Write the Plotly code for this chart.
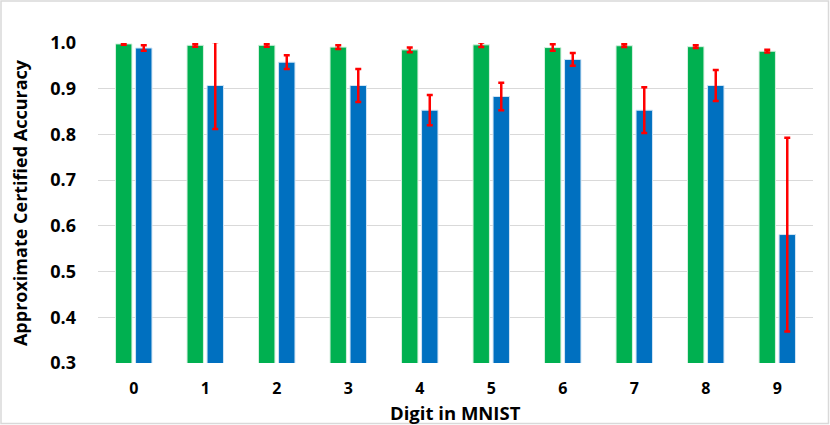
import plotly.graph_objects as go

digits = ["0", "1", "2", "3", "4", "5", "6", "7", "8", "9"]
green_vals = [0.998, 0.995, 0.995, 0.991, 0.985, 0.996, 0.990, 0.994, 0.992, 0.982]
green_err = [0.002, 0.003, 0.003, 0.004, 0.005, 0.005, 0.007, 0.003, 0.003, 0.003]
blue_vals = [0.989, 0.907, 0.958, 0.907, 0.853, 0.883, 0.964, 0.853, 0.907, 0.581]
blue_err = [0.006, 0.095, 0.015, 0.036, 0.033, 0.030, 0.014, 0.050, 0.034, 0.212]

font_family = "Open Sans"
W, H = 830, 425
L, R, T, B = 98, 17, 43, 62
pw, ph = W - L - R, H - T - B

fig = go.Figure()
fig.add_trace(go.Bar(
    x=digits, y=green_vals, name="A",
    marker=dict(color="#00B050", line=dict(color="#D6F0DF", width=1)),
    error_y=dict(type="data", array=green_err, color="#FF0000", thickness=2.5, width=3),
))
fig.add_trace(go.Bar(
    x=digits, y=blue_vals, name="B",
    marker=dict(color="#0070C0", line=dict(color="#D0E4F4", width=1)),
    error_y=dict(type="data", array=blue_err, color="#FF0000", thickness=2.5, width=3),
))

fig.update_layout(
    width=W, height=H,
    margin=dict(l=L, r=R, t=T, b=B),
    paper_bgcolor="white", plot_bgcolor="white",
    barmode="group", bargap=0.44, bargroupgap=0.18,
    showlegend=False,
    font=dict(family=font_family, color="#000000"),
    xaxis=dict(
        tickfont=dict(size=16, family=font_family, weight="bold"),
        ticklabelstandoff=14,
        showgrid=False, zeroline=False, showline=False, ticks="",
    ),
    yaxis=dict(
        title=dict(text="<b>Approximate Certified Accuracy</b>", font=dict(size=18, family=font_family), standoff=17),
        range=[0.3, 1.0], dtick=0.1, tickformat=".1f",
        tickfont=dict(size=18, family=font_family, weight="bold"),
        ticklabelstandoff=21,
        showgrid=True, gridcolor="#D9D9D9", gridwidth=1,
        zeroline=False, showline=False, ticks="",
    ),
    annotations=[dict(text="<b>Digit in MNIST</b>", xref="paper", yref="paper", x=0.5, y=0,
                      xanchor="center", yanchor="middle", yshift=-49, showarrow=False, borderpad=0,
                      font=dict(size=18.5, family=font_family, color="#000000"))],
    shapes=[dict(type="rect", xref="paper", yref="paper",
                 x0=-(L - 1) / pw, x1=1 + (R - 1.5) / pw, y0=-(B - 1.5) / ph, y1=1 + (T - 1) / ph,
                 line=dict(color="#D9D9D9", width=1.5), fillcolor="rgba(0,0,0,0)")],
)
fig.update_traces(cliponaxis=False)

fig.write_html("out.html", config={"displayModeBar": False},
               post_script="document.body.style.margin='0';document.body.style.overflow='hidden';")
